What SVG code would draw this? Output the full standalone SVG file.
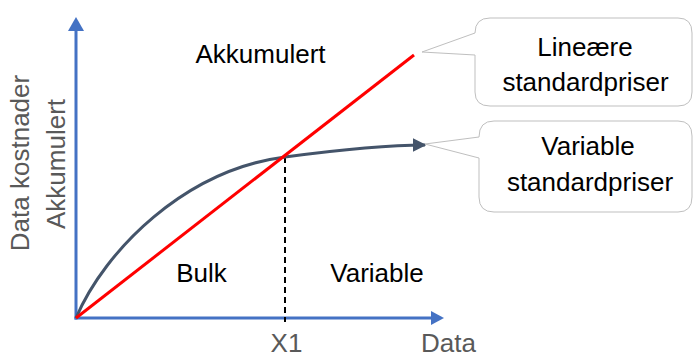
<svg xmlns="http://www.w3.org/2000/svg" width="693" height="358" viewBox="0 0 693 358">
<style>
text{font-family:"Liberation Sans",Arial,sans-serif;font-size:26px;}
.lbl{fill:#000;text-anchor:middle;}
.ax{fill:#595959;}
.axis{stroke:#4472C4;stroke-width:3;fill:none;}
.callout{fill:#fff;stroke:#BFBFBF;stroke-width:1;}
</style>
<defs>
<marker id="curveArrow" viewBox="0 0 10 10" refX="9" refY="5" markerWidth="4.5" markerHeight="4.5" orient="auto" markerUnits="strokeWidth">
<path d="M0,0 L10,5 L0,10 z" fill="#44546A"/>
</marker>
</defs>
<rect width="693" height="358" fill="#fff"/>
<g id="connectors">
<g id="axes">
<line class="axis" x1="76" y1="319.5" x2="76" y2="30"/>
<polygon points="76,17 68,31 84,31" fill="#4472C4"/>
<line class="axis" x1="74.5" y1="318" x2="432" y2="318"/>
<polygon points="444,318 431,311 431,325" fill="#4472C4"/>
</g>
<line id="x1-dash" x1="285" y1="157" x2="285" y2="322" stroke="#000" stroke-width="2" stroke-dasharray="6,4"/>
<path id="variable-curve" d="M76,318 C105,250 185,170 285,157 C330,151 380,145 425,145" fill="none" stroke="#44546A" stroke-width="3" marker-end="url(#curveArrow)"/>
<line id="linear-line" x1="76" y1="318" x2="414" y2="55" stroke="#FF0000" stroke-width="3"/>
</g>
<g id="callout-linear">
<path class="callout" d="M422,52 L475,33 Q475,18 490,18 L678,18 Q692,18 692,33 L692,92 Q692,106 678,106 L490,106 Q475,106 475,92 L475,55 Z"/>
<text class="lbl" x="585" y="56">Lineære</text>
<text class="lbl" x="585.5" y="91">standardpriser</text>
</g>
<g id="callout-variable">
<path class="callout" d="M425,144 L479,137 Q479,121 494,121 L678,121 Q692,121 692,136 L692,197 Q692,212 678,212 L494,212 Q479,212 479,197 L479,158 Z"/>
<text class="lbl" x="588" y="155">Variable</text>
<text class="lbl" x="590" y="191">standardpriser</text>
</g>
<g id="labels">
<text class="lbl" x="260.5" y="63">Akkumulert</text>
<text class="lbl" x="201.5" y="282">Bulk</text>
<text class="lbl" x="377" y="282">Variable</text>
<text class="ax" x="286.5" y="352" text-anchor="middle">X1</text>
<text class="ax" x="421" y="352">Data</text>
<text class="ax" text-anchor="middle" transform="translate(29,163) rotate(-90)">Data kostnader</text>
<text class="ax" text-anchor="middle" transform="translate(65,164) rotate(-90)">Akkumulert</text>
</g>
</svg>
